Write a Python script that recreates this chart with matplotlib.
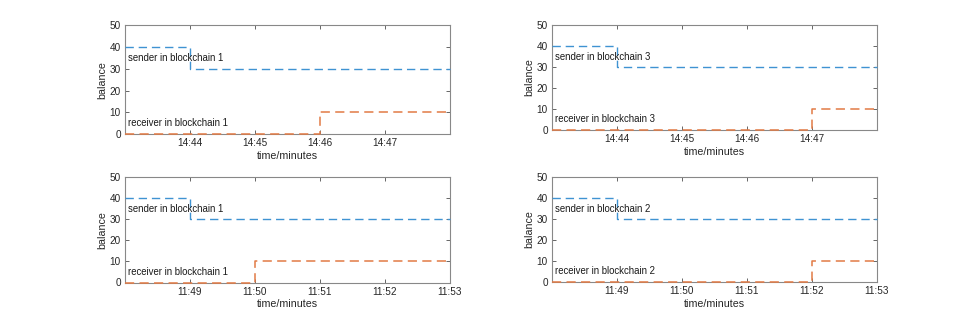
import matplotlib
matplotlib.use("Agg")
import matplotlib.pyplot as plt

plt.rcParams['font.family'] = ['Liberation Sans', 'DejaVu Sans']

# time in minutes past the hour
tl_time = [43, 44, 46, 48]
tl_sender = [40, 30, 30, 30]
tl_receiver = [0, 0, 10, 10]
tl_ticks = [44, 45, 46, 47]
tl_labels = ['14:44', '14:45', '14:46', '14:47']
tl_names = ['sender in blockchain 1', 'receiver in blockchain 1']

tr_time = [43, 44, 47, 48]
tr_sender = [40, 30, 30, 30]
tr_receiver = [0, 0, 10, 10]
tr_ticks = [44, 45, 46, 47]
tr_labels = ['14:44', '14:45', '14:46', '14:47']
tr_names = ['sender in blockchain 3', 'receiver in blockchain 3']

bl_time = [48, 49, 50, 53]
bl_sender = [40, 30, 30, 30]
bl_receiver = [0, 0, 10, 10]
bl_ticks = [49, 50, 51, 52, 53]
bl_labels = ['11:49', '11:50', '11:51', '11:52', '11:53']
bl_names = ['sender in blockchain 1', 'receiver in blockchain 1']

br_time = [48, 49, 52, 53]
br_sender = [40, 30, 30, 30]
br_receiver = [0, 0, 10, 10]
br_ticks = [49, 50, 51, 52, 53]
br_labels = ['11:49', '11:50', '11:51', '11:52', '11:53']
br_names = ['sender in blockchain 2', 'receiver in blockchain 2']

W, H = 969, 322
fig = plt.figure(figsize=(W / 100, H / 100), dpi=100)

BLUE = '#3f93d2'
ORANGE = '#e27a45'
AX = '#4d4d4d'

def make_axes(px_left, px_top, px_right, px_bottom):
    return fig.add_axes([px_left / W, 1 - px_bottom / H,
                         (px_right - px_left) / W, (px_bottom - px_top) / H])

panels = [
    ((125, 25, 450, 134.3), tl_time, tl_sender, tl_receiver, tl_ticks, tl_labels, tl_names),
    ((552, 25, 877, 130), tr_time, tr_sender, tr_receiver, tr_ticks, tr_labels, tr_names),
    ((125, 177, 450, 282.5), bl_time, bl_sender, bl_receiver, bl_ticks, bl_labels, bl_names),
    ((552, 177, 877, 282), br_time, br_sender, br_receiver, br_ticks, br_labels, br_names),
]

for box, t, s, r, ticks, labels, names in panels:
    ax = make_axes(*box)
    ax.step(t, s, where='post', color=BLUE, lw=1.0, ls=(0, (6, 3.5)), zorder=3, clip_on=False)
    ax.step(t, r, where='post', color=ORANGE, lw=1.1, ls=(0, (6, 3.5)), zorder=3, clip_on=False)
    ax.set_xlim(t[0], t[-1])
    ax.set_ylim(0, 50)
    ax.set_yticks([0, 10, 20, 30, 40, 50])
    ax.set_xticks(ticks)
    ax.set_xticklabels(labels)
    ax.tick_params(direction='in', length=3, width=0.6, colors=AX,
                   labelsize=7.2, top=True, right=True, pad=3)
    for lab in ax.get_xticklabels() + ax.get_yticklabels():
        lab.set_color('#262626')
    for sp in ax.spines.values():
        sp.set_color('#888888')
        sp.set_linewidth(0.8)
        sp.set_zorder(2)
    ax.set_xlabel('time/minutes', fontsize=7.7, color='#262626', labelpad=2)
    ax.set_ylabel('balance', fontsize=7.7, color='#262626', labelpad=2)
    x0 = t[0] + 0.05
    ax.text(x0, 35, names[0], fontsize=6.9, color='#1a1a1a', va='center', ha='left')
    ax.text(x0, 5, names[1], fontsize=6.9, color='#1a1a1a', va='center', ha='left')

fig.savefig('out.png', dpi=100)
